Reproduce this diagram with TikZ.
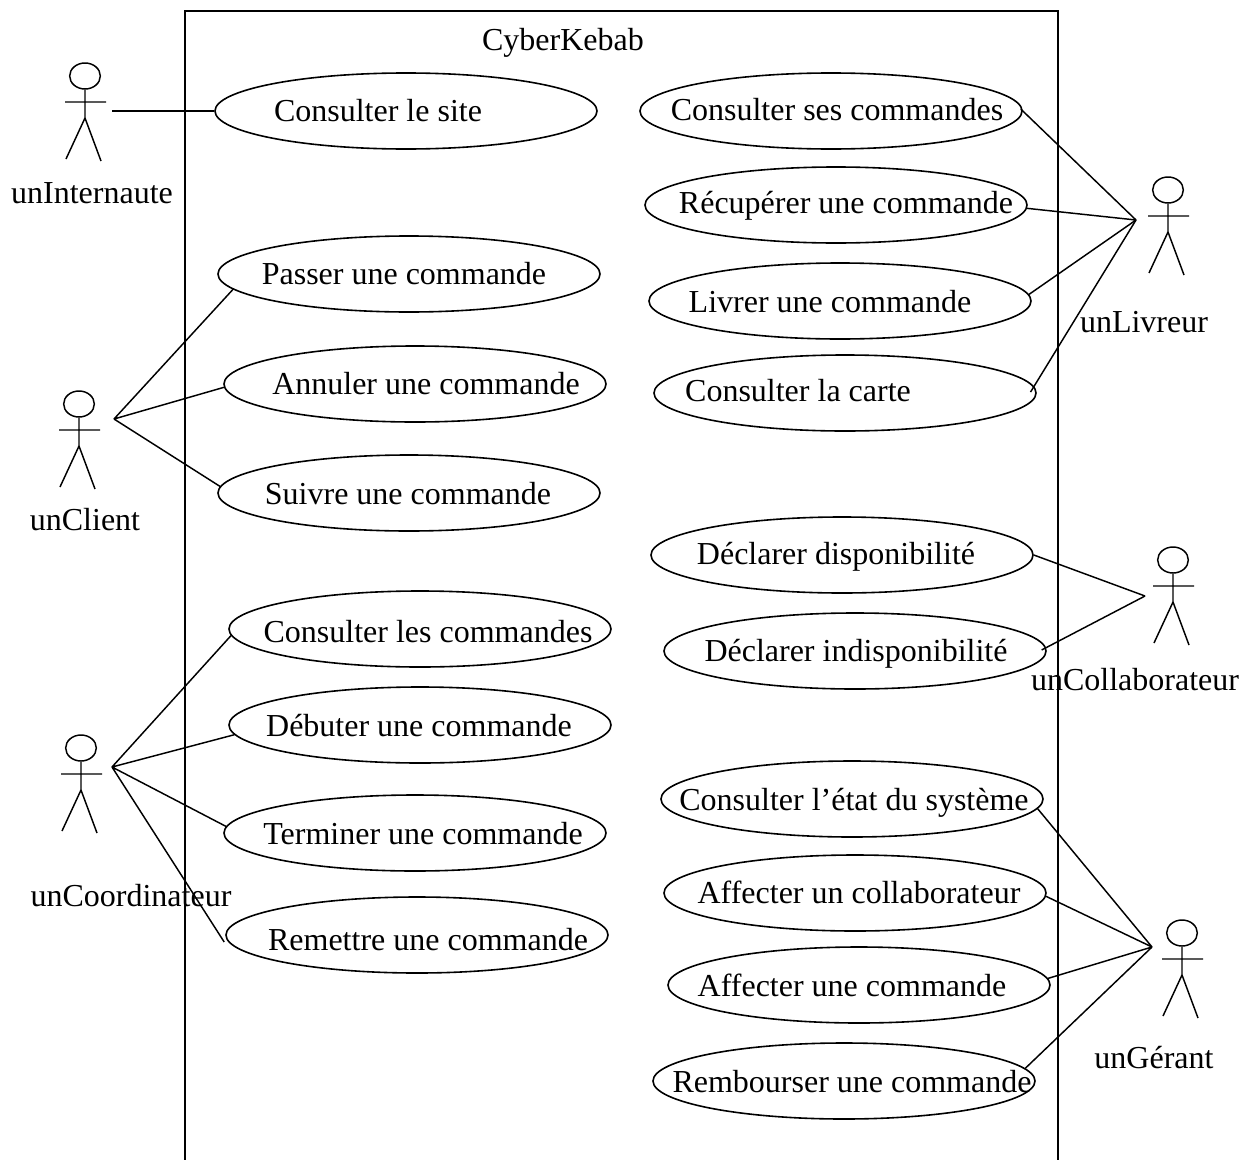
\documentclass[tikz,border=0pt]{standalone}
\usepackage{fontspec}
\setmainfont{Liberation Serif}
\usetikzlibrary{shapes.geometric}
\tikzset{
  x=0.75pt,y=-0.75pt,
  uc/.style={draw=black,line width=1.2pt,ellipse,minimum width=286.5pt,minimum height=57pt,inner sep=0pt},
  lbl/.style={font=\fontsize{24}{27}\selectfont,inner sep=0pt,text=black,anchor=base},
  lnk/.style={draw=black,line width=1.1pt},
  head/.style={ellipse,draw=black,line width=1.1pt,minimum width=23pt,minimum height=19.5pt,inner sep=0pt}
}
\newcommand{\actor}[3]{% name, x, y of head centre
  \node[head] (#1) at (#2,#3) {};
  \coordinate (#1W) at (#2-20,#3+26);
  \coordinate (#1E) at (#2+21,#3+26);
  \coordinate (#1B) at (#2,#3+42);
  \coordinate (#1L) at (#2-19,#3+83);
  \coordinate (#1R) at (#2+16,#3+85);
  \draw[lnk] (#1) -- (#1B) (#1W) -- (#1E) (#1L) -- (#1B) -- (#1R);
}
\begin{document}
\begin{tikzpicture}
\useasboundingbox (0,0) rectangle (1253,1160);
\coordinate (bl) at (185,1160);
\coordinate (tl) at (185,11);
\coordinate (tr) at (1058,11);
\coordinate (br) at (1058,1160);
\draw[lnk] (bl) -- (tl) -- (tr) -- (br);
\node[lbl] (title) at (563,50) {CyberKebab};
\node[uc] (a) at (406,111) {};
\node[uc] (b) at (409,274) {};
\node[uc] (c) at (415,384) {};
\node[uc] (d) at (409,493) {};
\node[uc] (e) at (420,629) {};
\node[uc] (f) at (420,725) {};
\node[uc] (g) at (415,833) {};
\node[uc] (h) at (417,935) {};
\node[uc] (i) at (831,111) {};
\node[uc] (j) at (836,205) {};
\node[uc] (k) at (840,301) {};
\node[uc] (l) at (845,393) {};
\node[uc] (m) at (842,555) {};
\node[uc] (n) at (855,651) {};
\node[uc] (o) at (852,799) {};
\node[uc] (p) at (855,893) {};
\node[uc] (q) at (859,985) {};
\node[uc] (r) at (844,1081) {};
\node[lbl] (ta) at (378,121) {Consulter le site};
\node[lbl] (tb) at (404,284) {Passer une commande};
\node[lbl] (tc) at (426,394) {Annuler une commande};
\node[lbl] (td) at (408,504) {Suivre une commande};
\node[lbl] (te) at (428,642) {Consulter les commandes};
\node[lbl] (tf) at (419,736) {Débuter une commande};
\node[lbl] (tg) at (423,844) {Terminer une commande};
\node[lbl] (th) at (428,950) {Remettre une commande};
\node[lbl] (ti) at (837,120) {Consulter ses commandes};
\node[lbl] (tj) at (846,213) {Récupérer une commande};
\node[lbl] (tk) at (830,312) {Livrer une commande};
\node[lbl] (tl2) at (798,401) {Consulter la carte};
\node[lbl] (tm) at (836,564) {Déclarer disponibilité};
\node[lbl] (tn) at (856,661) {Déclarer indisponibilité};
\node[lbl] (to) at (854,810) {Consulter l’état du système};
\node[lbl] (tp) at (859,903) {Affecter un collaborateur};
\node[lbl] (tq) at (852,996) {Affecter une commande};
\node[lbl] (tr2) at (852,1092) {Rembourser une commande};
\actor{A1}{85}{76}
\actor{A2}{79}{404}
\actor{A3}{81}{748}
\actor{A4}{1168}{190}
\actor{A5}{1173}{560}
\actor{A6}{1182}{933}
\node[lbl] (n1) at (92,203) {unInternaute};
\node[lbl] (n2) at (85,530) {unClient};
\node[lbl] (n3) at (131,906) {unCoordinateur};
\node[lbl] (n4) at (1144,332) {unLivreur};
\node[lbl] (n5) at (1135,690) {unCollaborateur};
\node[lbl] (n6) at (1154,1068) {unGérant};
\coordinate (h1) at (112,111);
\coordinate (h2) at (114,419);
\coordinate (h3) at (112,767);
\coordinate (h4) at (1136,220);
\coordinate (h5) at (1145,596);
\coordinate (h6) at (1152,947);
\coordinate (hend) at ([shift={(-1,7)}]h.west);
\draw[lnk] (h1) -- (a.180);
\draw[lnk] (h2) -- (b.185.2) (h2) -- (c.181.5) (h2) -- (d.178.2);
\draw[lnk] (h3) -- (e.182) (h3) -- (f.183.1) (h3) -- (g.178.8) (h3) -- (hend);
\draw[lnk,shorten >=-2pt] (h4) -- (i.0);
\draw[lnk] (h4) -- (j.359.4) (h4) -- (k.2.1);
\draw[lnk,shorten >=-5pt] (h4) -- (l.2.2);
\draw[lnk] (h5) -- (m.0);
\draw[lnk,shorten >=-3.75pt] (h5) -- (n.1.2);
\draw[lnk] (h6) -- (o.357.2) (h6) -- (p.359) (h6) -- (q.2) (h6) -- (r.4.7);
\end{tikzpicture}
\end{document}
